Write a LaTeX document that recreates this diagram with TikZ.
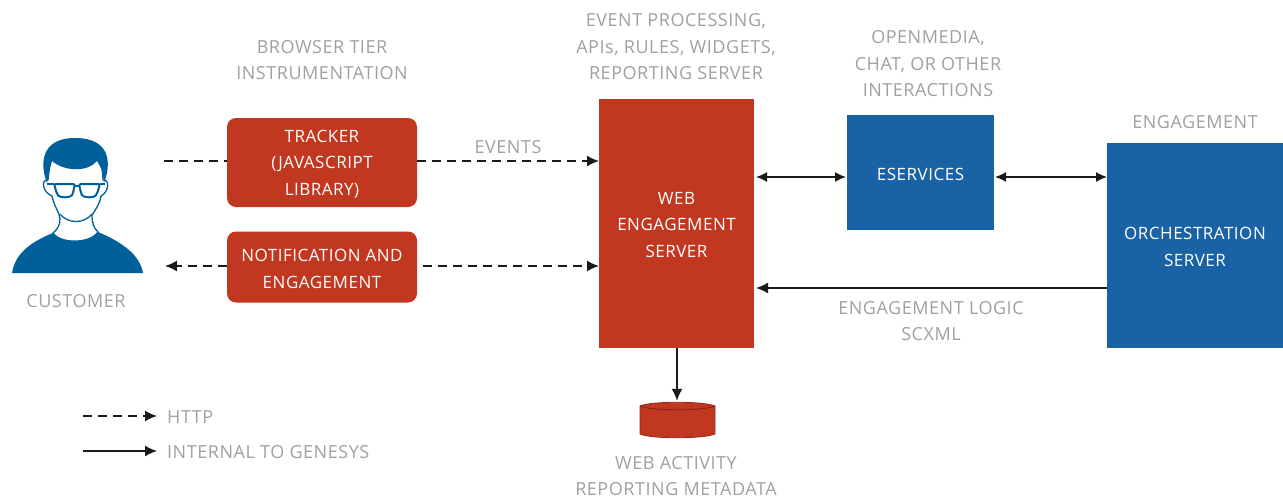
\documentclass[tikz,border=0pt]{standalone}
\usepackage{fontspec}
\setmainfont[LetterSpace=3]{Open Sans}
\usetikzlibrary{arrows.meta}
\definecolor{wred}{HTML}{C23720}
\definecolor{wblue}{HTML}{1A62A6}
\definecolor{pblue}{HTML}{00609C}
\definecolor{lab}{HTML}{A0A0A0}
\definecolor{arr}{HTML}{1A1A1A}
\tikzset{
  x=1pt,y=-1pt,
  lbl/.style={text=lab,font=\fontsize{18}{26.5}\selectfont,align=center,inner sep=0pt},
  wlab/.style={text=white,font=\fontsize{17}{26.5}\selectfont,align=center,inner sep=0pt},
  redbox/.style={fill=wred,rounded corners=9pt,inner sep=0pt,minimum width=190pt},
  sqred/.style={fill=wred,inner sep=0pt},
  sqblue/.style={fill=wblue,inner sep=0pt},
  dash line/.style={draw=arr,line width=1.5pt,dash pattern=on 9pt off 6pt,-{Latex[length=12pt,width=11pt]}},
  solid line/.style={draw=arr,line width=1.5pt,-{Latex[length=12pt,width=11pt]}},
  both line/.style={draw=arr,line width=1.5pt,{Latex[length=11pt,width=10pt]}-{Latex[length=11pt,width=10pt]}},
}
\begin{document}
\begin{tikzpicture}
\useasboundingbox (0,0) rectangle (1283,498);
% person
\fill[pblue] (12,273) .. controls (15,255) and (28,243) .. (53,233) .. controls (60,244) and (90,244) .. (98,232) .. controls (122,242) and (140,255) .. (143,273) -- cycle;
\filldraw[pblue,line width=1.3pt,fill=white] (50,160) -- (48,180) .. controls (41,179) and (42,192) .. (52,196) .. controls (54,206) and (59,212) .. (60,218) .. controls (60,225) and (58,229) .. (53,233) .. controls (60,244) and (90,244) .. (98,232) .. controls (94,228) and (92,224) .. (92,215) .. controls (94,212) and (100,204) .. (101,196) .. controls (109,192) and (110,179) .. (103,180) -- (102,160);
\draw[pblue,line width=1.3pt] (60,214) .. controls (68,224) and (84,224) .. (92,214);
\fill[pblue] (47,183) .. controls (40,165) and (40,138) .. (75,138) .. controls (112,138) and (111,165) .. (104,183) .. controls (103,172) and (101,167) .. (97,161) .. controls (88,172) and (65,172) .. (52,161) .. controls (50,167) and (49,175) .. (47,183) -- cycle;
\draw[pblue,line width=2pt,fill=white,rounded corners=2pt] (54,184) -- (75,184) -- (73,193) .. controls (71,198) and (60,198) .. (57,194) -- cycle;
\draw[pblue,line width=2pt,fill=white,rounded corners=2pt] (79,184) -- (100,184) -- (97,194) .. controls (94,198) and (83,198) .. (81,193) -- cycle;
\draw[pblue,line width=2pt] (75,186) -- (79,186) (47,184) -- (54,184) (100,184) -- (105,184);
\node[lbl] (custlab) at (76,301) {CUSTOMER};
% boxes
\node[redbox,minimum height=89pt] (tracker) at (322,162.5) {};
\node[wlab] (tracklab) at (322,164) {TRACKER\\(JAVASCRIPT\\LIBRARY)};
\node[redbox,minimum height=71pt] (notif) at (322,267) {};
\node[wlab] (notiflab) at (322,269) {NOTIFICATION AND\\ENGAGEMENT};
\node[sqred,minimum width=155pt,minimum height=249pt] (web) at (676.5,223) {};
\node[wlab] (weblab) at (676.5,225) {WEB\\ENGAGEMENT\\SERVER};
\node[sqblue,minimum width=147pt,minimum height=115pt] (eserv) at (920.5,172.5) {};
\node[wlab] (eservlab) at (920.5,174) {ESERVICES};
\node[sqblue,minimum width=176pt,minimum height=205pt] (orch) at (1195,245) {};
\node[wlab] (orchlab) at (1195,247) {ORCHESTRATION\\SERVER};
% labels
\node[lbl] (l1) at (322,60) {BROWSER TIER\\INSTRUMENTATION};
\node[lbl] (l2) at (676,47) {EVENT PROCESSING,\\APIs, RULES, WIDGETS,\\REPORTING SERVER};
\node[lbl] (l3) at (928,64) {OPENMEDIA,\\CHAT, OR OTHER\\INTERACTIONS};
\node[lbl] (l4) at (1195,122) {ENGAGEMENT};
\node[lbl] (l5) at (508,147) {EVENTS};
\node[lbl] (l6) at (931,321) {ENGAGEMENT LOGIC\\SCXML};
\node[lbl] (l7) at (676,476) {WEB ACTIVITY\\REPORTING METADATA};
\node[lbl,anchor=west] (l8) at (167,417) {HTTP};
\node[lbl,anchor=west] (l9) at (167,452) {INTERNAL TO GENESYS};
% database
\node[inner sep=0pt,minimum size=0pt] (dbtop) at (677,401) {};
\draw[wred!75!black,line width=.8pt,fill=wred] (640,406) -- (640,434) .. controls (650,439) and (704,439) .. (715,434) -- (715,406) .. controls (704,401) and (650,401) .. cycle;
\draw[wred!65!black,line width=.8pt] (640,406) .. controls (650,411) and (704,411) .. (715,406);
% coordinates
\coordinate (userin) at (164,161);
\coordinate (userout) at (165,266);
\coordinate (trackR) at (417,161);
\coordinate (notifR) at (423,266);
\coordinate (webT) at (599,161);
\coordinate (webN) at (599,266);
\coordinate (webE1) at (756,177);
\coordinate (esW) at (846,177);
\coordinate (esE) at (995,177);
\coordinate (orW) at (1107,177);
\coordinate (orW2) at (1107,288);
\coordinate (webE2) at (756,288);
\coordinate (webS) at (677,348);
% connectors
\draw[draw=arr,line width=1.5pt,dash pattern=on 9pt off 6pt] (userin) -- (tracker.west |- userin);
\draw[dash line] (trackR) -- (webT);
\draw[dash line] (notif.west |- userout) -- (userout);
\draw[dash line] (notifR) -- (webN);
\draw[both line] (webE1) -- (esW);
\draw[both line] (esE) -- (orW);
\draw[solid line] (orW2) -- (webE2);
\draw[solid line] (webS) -- (dbtop);
% legend
\coordinate (k1a) at (83,416);
\coordinate (k1b) at (157,416);
\coordinate (k2a) at (83,451);
\coordinate (k2b) at (157,451);
\draw[dash line] (k1a) -- (k1b);
\draw[solid line] (k2a) -- (k2b);
\end{tikzpicture}
\end{document}
